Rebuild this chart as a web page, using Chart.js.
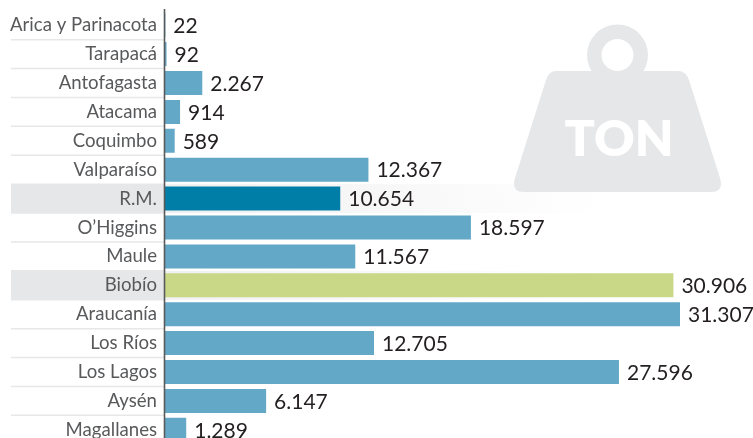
<!DOCTYPE html>
<html><head><meta charset="utf-8">
<style>html,body{margin:0;padding:0;background:#fff;overflow:hidden;width:753px;height:438px}
#w{position:absolute;left:0;top:0;width:753px;height:438px;overflow:hidden}
canvas{display:block}</style>
<script src="https://cdn.jsdelivr.net/npm/chart.js@4/dist/chart.umd.min.js"></script>
</head><body><div id="w"><canvas id="c" width="753" height="446"></canvas></div>
<script>
const regions=["Arica y Parinacota","Tarapacá","Antofagasta","Atacama","Coquimbo","Valparaíso","R.M.","O’Higgins","Maule","Biobío","Araucanía","Los Ríos","Los Lagos","Aysén","Magallanes"];
const tons=[22,92,2267,914,589,12367,10654,18597,11567,30906,31307,12705,27596,6147,1289];
const tonLabels=["22","92","2.267","914","589","12.367","10.654","18.597","11.567","30.906","31.307","12.705","27.596","6.147","1.289"];
const barColors=["#63a8c6","#63a8c6","#63a8c6","#63a8c6","#63a8c6","#63a8c6","#007ea7","#63a8c6","#63a8c6","#c8d887","#63a8c6","#63a8c6","#63a8c6","#63a8c6","#63a8c6"];
const bandRows=["R.M.","Biobío"];
const iconText="TON";
const backdrop={id:'backdrop',beforeDraw(ch){
  const g=ch.ctx,y=ch.scales.y,a=ch.chartArea;
  g.save();
  const step=y.getPixelForValue(1)-y.getPixelForValue(0);
  // highlighted bands
  bandRows.forEach(r=>{const p=y.getPixelForValue(regions.indexOf(r));
    g.fillStyle='#e6e7e8';g.fillRect(11,p-step/2,a.left-11,step);
    const gr=g.createLinearGradient(a.left,0,a.left+440,0);
    gr.addColorStop(0,'#f0f0f1');gr.addColorStop(1,'#ffffff');
    g.fillStyle=gr;g.fillRect(a.left,p-step/2,440,step);});
  // weight icon
  g.fillStyle='#e6e7e8';
  g.beginPath();g.arc(617.5,55,30.5,0,Math.PI*2);g.arc(617.5,55,16,0,Math.PI*2,true);g.fill('evenodd');
  g.beginPath();
  g.moveTo(556,71);g.lineTo(678,71);g.quadraticCurveTo(686,71,689,80);
  g.lineTo(720,178);g.quadraticCurveTo(724,192,711,192);
  g.lineTo(524,192);g.quadraticCurveTo(511,192,515,178);
  g.lineTo(546,80);g.quadraticCurveTo(549,71,556,71);g.fill();
  g.fillStyle='#fff';g.font='800 50px Lato';g.textAlign='center';g.textBaseline='alphabetic';
  g.fillText(iconText,619,156);
  // separators
  g.strokeStyle='#e6e7e8';g.lineWidth=1.5;
  regions.forEach((r,i)=>{const p=y.getPixelForValue(i)+step/2;
    g.beginPath();g.moveTo(11,p);g.lineTo(a.left,p);g.stroke();});
  g.restore();
},afterDatasetsDraw(ch){
  const g=ch.ctx,m=ch.getDatasetMeta(0),a=ch.chartArea;
  g.save();
  g.font='400 21px Lato';g.fillStyle='#231f20';g.textAlign='left';g.textBaseline='middle';
  m.data.forEach((b,i)=>g.fillText(tonLabels[i],b.x+8,b.y+1));
  g.strokeStyle='#58595b';g.lineWidth=1.6;
  g.beginPath();g.moveTo(a.left-0.5,9);g.lineTo(a.left-0.5,446);g.stroke();
  g.restore();
}};
new Chart(document.getElementById('c'),{type:'bar',
 data:{labels:regions,datasets:[{data:tons,backgroundColor:barColors,borderWidth:0,barPercentage:1,categoryPercentage:24/28.9}]},
 options:{indexAxis:'y',responsive:false,animation:false,
  layout:{padding:{top:10.75,bottom:1.75,left:0,right:0}},
  plugins:{legend:{display:false},tooltip:{enabled:false}},
  scales:{
   x:{min:0,max:35745,display:false},
   y:{grid:{display:false,drawTicks:false,tickLength:0},border:{display:false},
      afterFit(s){s.width=165;s.paddingTop=0;s.paddingBottom=0},
      ticks:{color:'#58595b',font:{family:'Lato',size:18.6},padding:8,autoSkip:false}}
  }},plugins:[backdrop]});
</script></body></html>
